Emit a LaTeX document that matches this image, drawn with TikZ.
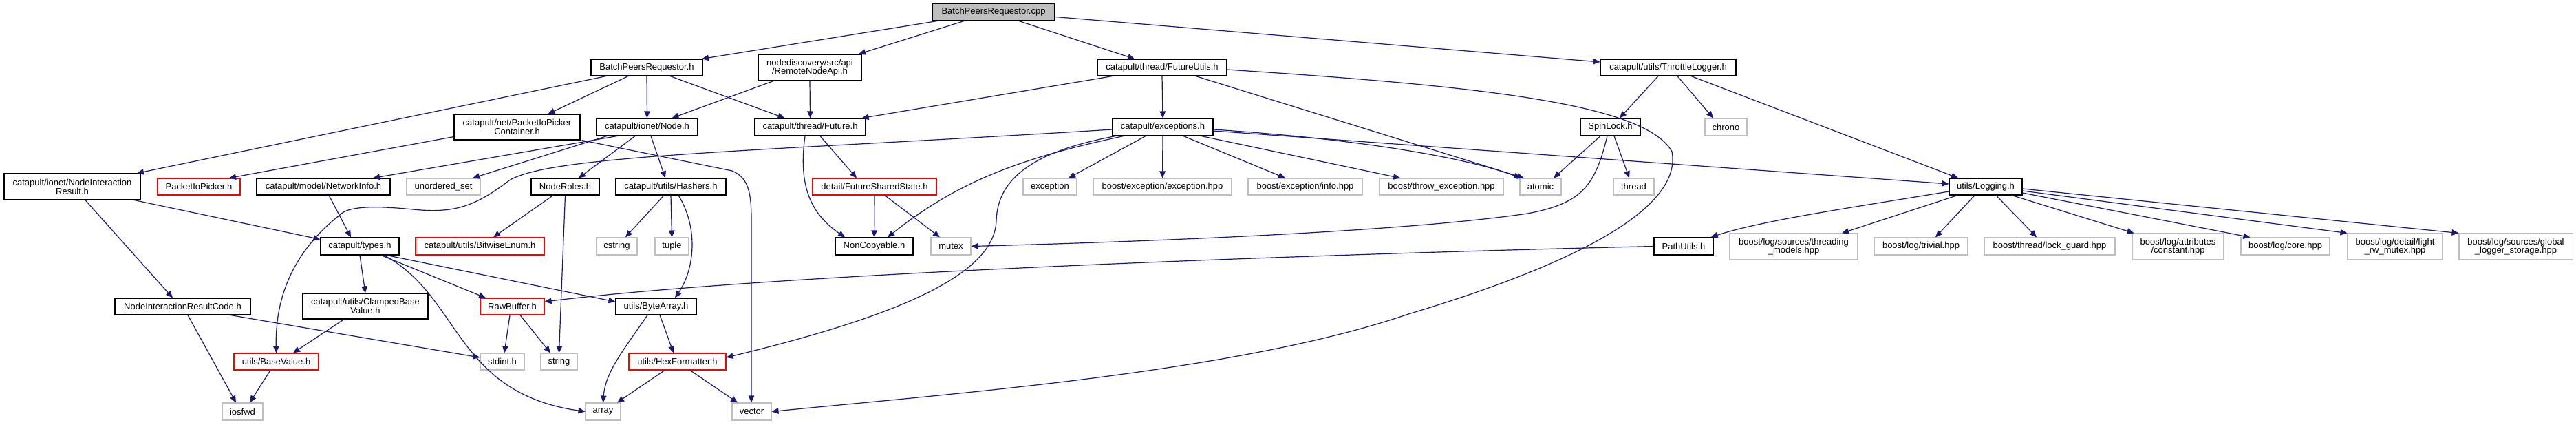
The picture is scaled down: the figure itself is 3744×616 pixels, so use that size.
\documentclass[tikz,border=0pt]{standalone}
\usepackage{fontspec}
\setmainfont{Liberation Sans}
\usetikzlibrary{arrows.meta,calc}
\definecolor{edgec}{RGB}{25,25,112}
\definecolor{greyc}{RGB}{191,191,191}
\begin{document}
\begin{tikzpicture}[x=1pt,y=-1pt,
  box/.style={draw=black, line width=1.1pt, inner sep=0pt, align=center, text=black,
     font=\fontsize{13}{12.7}\selectfont},
  sysbox/.style={box, draw=greyc},
  redbox/.style={box, draw=red},
  rootbox/.style={box, fill=greyc},
  edge/.style={draw=edgec, line width=1.2pt, -{Triangle[length=10pt,width=8.5pt]}}]
\fill[white] (0,0) rectangle (3744,616);
\useasboundingbox (0,0) rectangle (3744,616);
% row 0
\node[rootbox, minimum width=178pt, minimum height=25pt] (cpp) at (1444,17.5) {BatchPeersRequestor.cpp};
% row 1
\node[box, minimum width=162pt, minimum height=24pt] (bpr) at (940,98) {BatchPeersRequestor.h};
\node[box, minimum width=150pt, minimum height=38pt] (rna) at (1177,98) {nodediscovery/src/api\\/RemoteNodeApi.h};
\node[box, minimum width=188pt, minimum height=24pt] (futils) at (1689,98) {catapult/thread/FutureUtils.h};
\node[box, minimum width=197pt, minimum height=24pt] (throttle) at (2424.5,98) {catapult/utils/ThrottleLogger.h};
% row 2
\node[box, minimum width=183pt, minimum height=37pt] (pipc) at (751.5,184.5) {catapult/net/PacketIoPicker\\Container.h};
\node[box, minimum width=147pt, minimum height=25pt] (node) at (940.5,184.5) {catapult/ionet/Node.h};
\node[box, minimum width=161pt, minimum height=25pt] (future) at (1177.5,184.5) {catapult/thread/Future.h};
\node[box, minimum width=146pt, minimum height=25pt] (exc) at (1690,184.5) {catapult/exceptions.h};
\node[box, minimum width=87pt, minimum height=25pt] (spin) at (2340.5,184.5) {SpinLock.h};
\node[sysbox, minimum width=61pt, minimum height=25pt] (chrono) at (2508.5,184.5) {chrono};
% row 3
\node[box, minimum width=198pt, minimum height=38pt] (nir) at (105,271) {catapult/ionet/NodeInteraction\\Result.h};
\node[redbox, minimum width=120pt, minimum height=24pt] (pip) at (289,271) {PacketIoPicker.h};
\node[box, minimum width=194pt, minimum height=24pt] (netinfo) at (470,271) {catapult/model/NetworkInfo.h};
\node[sysbox, minimum width=107pt, minimum height=24pt] (uset) at (644.5,271) {unordered\_set};
\node[box, minimum width=99pt, minimum height=24pt] (roles) at (821.5,271) {NodeRoles.h};
\node[box, minimum width=160pt, minimum height=24pt] (hashers) at (975,271) {catapult/utils/Hashers.h};
\node[redbox, minimum width=180pt, minimum height=24pt] (fss) at (1271,271) {detail/FutureSharedState.h};
\node[sysbox, minimum width=78pt, minimum height=24pt] (exception) at (1526,271) {exception};
\node[sysbox, minimum width=201pt, minimum height=24pt] (bexc) at (1689.5,271) {boost/exception/exception.hpp};
\node[sysbox, minimum width=166pt, minimum height=24pt] (binfo) at (1897,271) {boost/exception/info.hpp};
\node[sysbox, minimum width=180pt, minimum height=24pt] (bthrow) at (2095,271) {boost/throw\_exception.hpp};
\node[sysbox, minimum width=60pt, minimum height=24pt] (atomic) at (2239,271) {atomic};
\node[sysbox, minimum width=59pt, minimum height=24pt] (thread) at (2374.5,271) {thread};
\node[box, minimum width=106pt, minimum height=24pt] (logging) at (2886,271) {utils/Logging.h};
% row 4
\node[box, minimum width=114pt, minimum height=25pt] (types) at (523,357.5) {catapult/types.h};
\node[redbox, minimum width=187pt, minimum height=25pt] (bitwise) at (697.5,357.5) {catapult/utils/BitwiseEnum.h};
\node[sysbox, minimum width=59pt, minimum height=25pt] (cstring) at (896.5,357.5) {cstring};
\node[sysbox, minimum width=49pt, minimum height=25pt] (tuple) at (976.5,357.5) {tuple};
\node[box, minimum width=113pt, minimum height=25pt] (noncopy) at (1270.5,357.5) {NonCopyable.h};
\node[sysbox, minimum width=58pt, minimum height=25pt] (mutex) at (1382,357.5) {mutex};
\node[box, minimum width=86pt, minimum height=25pt] (pathutils) at (2447,357.5) {PathUtils.h};
\node[sysbox, minimum width=186pt, minimum height=38pt] (threading) at (2607,358) {boost/log/sources/threading\\\_models.hpp};
\node[sysbox, minimum width=136pt, minimum height=25pt] (trivial) at (2792,357.5) {boost/log/trivial.hpp};
\node[sysbox, minimum width=190pt, minimum height=25pt] (lockguard) at (2979,357.5) {boost/thread/lock\_guard.hpp};
\node[sysbox, minimum width=133pt, minimum height=38pt] (constant) at (3165.5,358) {boost/log/attributes\\/constant.hpp};
\node[sysbox, minimum width=129pt, minimum height=25pt] (core) at (3321.5,357.5) {boost/log/core.hpp};
\node[sysbox, minimum width=138pt, minimum height=38pt] (lightrw) at (3481,358) {boost/log/detail/light\\\_rw\_mutex.hpp};
\node[sysbox, minimum width=165pt, minimum height=38pt] (global) at (3656.5,358) {boost/log/sources/global\\\_logger\_storage.hpp};
% row 5
\node[box, minimum width=197pt, minimum height=24pt] (nircode) at (265.5,445) {NodeInteractionResultCode.h};
\node[box, minimum width=182pt, minimum height=37pt] (clamped) at (531,444.5) {catapult/utils/ClampedBase\\Value.h};
\node[redbox, minimum width=93pt, minimum height=24pt] (rawbuf) at (744.5,445) {RawBuffer.h};
\node[box, minimum width=117pt, minimum height=24pt] (bytearr) at (953.5,445) {utils/ByteArray.h};
% row 6
\node[redbox, minimum width=123pt, minimum height=24pt] (basevalue) at (401.5,525) {utils/BaseValue.h};
\node[sysbox, minimum width=64pt, minimum height=24pt] (stdint) at (730,525) {stdint.h};
\node[sysbox, minimum width=53pt, minimum height=24pt] (string) at (812.5,525) {string};
\node[redbox, minimum width=141pt, minimum height=24pt] (hexfmt) at (984.5,525) {utils/HexFormatter.h};
% row 7
\node[sysbox, minimum width=59pt, minimum height=25pt] (iosfwd) at (352.5,597.5) {iosfwd};
\node[sysbox, minimum width=51pt, minimum height=25pt] (array) at (876.5,597.5) {array};
\node[sysbox, minimum width=57pt, minimum height=25pt] (vector) at (1092.5,597.5) {vector};

% edges from cpp
\draw[edge] ([xshift=-82pt]cpp.south) -- ([xshift=80pt]bpr.north);
\draw[edge] ([xshift=-43pt]cpp.south) -- ([xshift=71pt]rna.north);
\draw[edge] ([xshift=37pt]cpp.south) -- ([xshift=-40pt]futils.north);
\draw[edge] ([yshift=-7pt]cpp.east) -- ([yshift=8pt]throttle.west);
% bpr
\draw[edge] ([xshift=-59pt]bpr.south) -- ([xshift=94pt]nir.north);
\draw[edge] ([xshift=-27pt]bpr.south) -- ([xshift=45pt]pipc.north);
\draw[edge] (bpr.south) -- (node.north);
\draw[edge] ([xshift=34pt]bpr.south) -- ([xshift=-37pt]future.north);
% rna
\draw[edge] ([xshift=-53pt]rna.south) -- ([xshift=36pt]node.north);
\draw[edge] (rna.south) -- (future.north);
% futils
\draw[edge] ([xshift=-72pt]futils.south) -- ([xshift=-6pt]future.north east);
\draw[edge] (futils.south) -- (exc.north);
\draw[edge] ([xshift=49pt]futils.south) -- ([xshift=-24pt]atomic.north);
\draw[edge] ([yshift=-3pt]futils.east) .. controls (2150,125) and (2390,150) .. (2430,220)
   .. controls (2445,300) and (2300,380) .. (2047,456)
   .. controls (1800,540) and (1400,570) .. (vector.east);
% throttle
\draw[edge] ([xshift=-14.5pt]throttle.south) -- ([xshift=13.5pt]spin.north);
\draw[edge] ([xshift=13.5pt]throttle.south) -- ([xshift=-18.5pt]chrono.north);
\draw[edge] ([xshift=33.5pt]throttle.south) -- ([xshift=-40pt]logging.north);
% pipc
\draw[edge] ([yshift=5pt]pipc.south west) -- ([xshift=44pt]pip.north);
\draw[edge] ([xshift=2pt]pipc.south east) -- (1064,248) .. controls (1088,258) and (1092,280) .. (1092,320) -- ([xshift=-0.5pt]vector.north);
% node
\draw[edge] ([xshift=-43.5pt]node.south) -- ([xshift=72pt]netinfo.north);
\draw[edge] ([xshift=-58.5pt]node.south) -- ([xshift=42.5pt]uset.north);
\draw[edge] ([xshift=-17.5pt]node.south) -- ([xshift=19.5pt]roles.north);
\draw[edge] ([xshift=5.5pt]node.south) -- ([xshift=-8pt]hashers.north);
% future
\draw[edge] ([xshift=-7.5pt]future.south) .. controls (1160,270) and (1178,310) .. ([xshift=-42.5pt]noncopy.north);
\draw[edge] ([xshift=14.5pt]future.south) -- ([xshift=-26pt]fss.north);
% exceptions
\draw[edge] ([yshift=-3.5pt]exc.west) .. controls (1100,220) and (800,225) .. (740,262)
   .. controls (690,300) and (660,310) .. (600,304)
   .. controls (540,298) and (505,300) .. (494,312)
   .. controls (420,370) and (400,440) .. (basevalue.north);
\draw[edge] ([xshift=-57pt]exc.south) .. controls (1480,230) and (1390,265) .. ([xshift=19.5pt]noncopy.north);
\draw[edge] ([xshift=5pt]exc.south west) .. controls (1500,220) and (1450,260) .. (1448,320)
   .. controls (1446,400) and (1300,460) .. ([yshift=6pt]hexfmt.east);
\draw[edge] ([xshift=-25pt]exc.south) -- ([xshift=27pt]exception.north);
\draw[edge] (exc.south) -- (bexc.north);
\draw[edge] ([xshift=30pt]exc.south) -- ([xshift=-29pt]binfo.north);
\draw[edge] ([xshift=56pt]exc.south) -- ([xshift=-60pt]bthrow.north);
\draw[edge] ([yshift=-3.5pt]exc.east) .. controls (1950,200) and (2120,225) .. ([xshift=2pt]atomic.north west);
\draw[edge] ([yshift=-5.5pt]exc.east) -- ([yshift=4pt]logging.west);
% spinlock
\draw[edge] ([xshift=-14.5pt]spin.south) -- ([xshift=19pt]atomic.north);
\draw[edge] ([xshift=5.5pt]spin.south) -- ([xshift=-6.5pt]thread.north);
\draw[edge] ([xshift=-4.5pt]spin.south) .. controls (2318,270) and (2300,295) .. (2220,310)
   .. controls (2050,335) and (1700,350) .. (mutex.east);
% fss
\draw[edge] (fss.south) -- (noncopy.north);
\draw[edge] ([xshift=15pt]fss.south) -- ([xshift=-16pt]mutex.north);
% logging
\draw[edge] ([yshift=-7pt]logging.west) .. controls (2700,300) and (2560,320) .. ([xshift=-4pt]pathutils.north east);
\draw[edge] ([xshift=-41pt]logging.south) -- ([xshift=70pt]threading.north);
\draw[edge] ([xshift=-16pt]logging.south) -- ([xshift=21pt]trivial.north);
\draw[edge] ([xshift=15pt]logging.south) -- ([xshift=-19pt]lockguard.north);
\draw[edge] ([xshift=38pt]logging.south) -- ([xshift=3pt]constant.north west);
\draw[edge] ([yshift=-9pt]logging.east) -- ([xshift=14pt]core.north west);
\draw[edge] ([yshift=-6pt]logging.east) -- (lightrw.north west);
\draw[edge] ([yshift=-3pt]logging.east) -- (global.north west);
% pathutils
\draw[edge] (pathutils.west) .. controls (1800,372) and (1100,400) .. ([yshift=7pt]rawbuf.east);
% nir
\draw[edge] ([xshift=19pt]nir.south) -- ([xshift=-14.5pt]nircode.north);
\draw[edge] ([xshift=90pt]nir.south) -- ([yshift=-3pt]types.north west);
% netinfo, roles, hashers
\draw[edge] ([xshift=8pt]netinfo.south) -- ([xshift=-13pt]types.north);
\draw[edge] ([xshift=-17.5pt]roles.south) -- ([xshift=19.5pt]bitwise.north);
\draw[edge] (roles.south) -- (string.north);
\draw[edge] ([xshift=-10pt]hashers.south) -- ([xshift=12.5pt]cstring.north);
\draw[edge] (hashers.south) -- (tuple.north);
\draw[edge] ([xshift=11pt]hashers.south) .. controls (1015,330) and (1010,390) .. ([xshift=27.5pt]bytearr.north);
% types
\draw[edge] (types.south) -- (clamped.north);
\draw[edge] ([xshift=31pt]types.south) -- ([xshift=-38.5pt]rawbuf.north);
\draw[edge] ([xshift=39pt]types.south) -- ([yshift=7pt]bytearr.west);
\draw[edge] ([xshift=35pt]types.south) .. controls (670,430) and (660,570) .. (array.west);
% row 5
\draw[edge] ([xshift=7.5pt]nircode.south) -- ([xshift=-9.5pt]iosfwd.north);
\draw[edge] ([xshift=69.5pt]nircode.south) -- ([yshift=6pt]stdint.west);
\draw[edge] ([xshift=-31pt]clamped.south) -- ([xshift=24.5pt]basevalue.north);
\draw[edge] ([xshift=-3.5pt]rawbuf.south) -- ([xshift=3pt]stdint.north);
\draw[edge] ([xshift=11.5pt]rawbuf.south) -- ([xshift=-12.5pt]string.north);
\draw[edge] ([xshift=-12.5pt]bytearr.south) .. controls (905,510) and (880,540) .. (array.north);
\draw[edge] ([xshift=5.5pt]bytearr.south) -- ([xshift=-5.5pt]hexfmt.north);
% row 6
\draw[edge] ([xshift=-8.5pt]basevalue.south) -- ([xshift=10.5pt]iosfwd.north);
\draw[edge] ([xshift=-18.5pt]hexfmt.south) -- ([xshift=20.5pt]array.north);
\draw[edge] ([xshift=18.5pt]hexfmt.south) -- ([xshift=-20.5pt]vector.north);
\end{tikzpicture}
\end{document}
